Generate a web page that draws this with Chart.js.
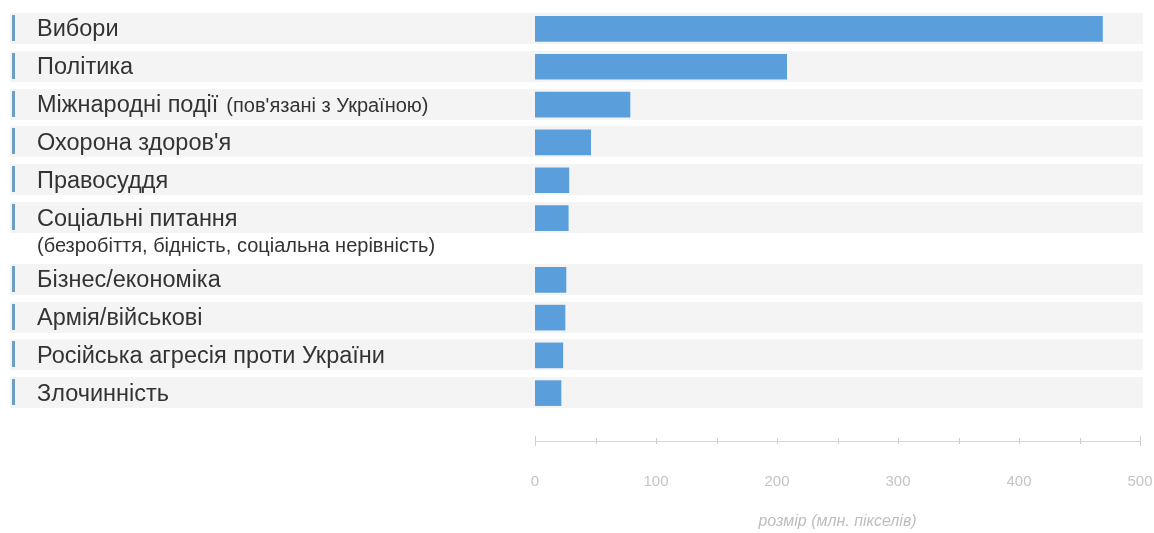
<!DOCTYPE html>
<html><head><meta charset="utf-8">
<script src="https://cdn.jsdelivr.net/npm/chart.js@4/dist/chart.umd.min.js"></script>
<style>
html,body{margin:0;padding:0;background:#fff;}
#wrap{position:relative;width:1154px;height:533px;overflow:hidden;}
#a{position:absolute;left:0;top:0;}
#b{position:absolute;left:0;top:258px;}
</style></head><body>
<div id="wrap"><canvas id="a" width="1154" height="258"></canvas><canvas id="b" width="1154" height="275"></canvas></div>
<script>
const categories = ['Вибори','Політика','Міжнародні події','Охорона здоров\'я','Правосуддя','Соціальні питання','Бізнес/економіка','Армія/військові','Російська агресія проти України','Злочинність'];
const inlineNotes = ['','','(пов\'язані з Україною)','','','','','','',''];
const lineNotes = ['','','','','','(безробіття, бідність, соціальна нерівність)','','','',''];
const sizes = [469, 208, 78.5, 46, 28, 27.5, 25.6, 24.8, 23, 21.5];
const axisMin = 0;
const axisMax = 500;
const majorStep = 100;
const minorStep = 50;
const axisTitle = 'розмір (млн. пікселів)';
const splitAt = 6;

const FONT = "'Liberation Sans', Arial, Helvetica, sans-serif";
const BAR = '#5a9fdc';

function rowsPlugin(labels, notes, subs) {
  return {
    id: 'rows',
    beforeDatasetsDraw(chart) {
      const ctx = chart.ctx, y = chart.scales.y;
      ctx.save();
      labels.forEach((l, i) => {
        const c = y.getPixelForValue(i);
        ctx.fillStyle = '#f4f4f4';
        ctx.fillRect(10, Math.round(c) - 16, 1133, 31);
        ctx.fillStyle = '#6e9ec4';
        ctx.fillRect(12, Math.round(c) - 14, 3, 26);
      });
      ctx.restore();
    },
    afterDraw(chart) {
      const ctx = chart.ctx, y = chart.scales.y;
      ctx.save();
      ctx.textBaseline = 'middle';
      ctx.textAlign = 'left';
      labels.forEach((l, i) => {
        const c = y.getPixelForValue(i);
        ctx.fillStyle = '#333';
        ctx.font = '23.5px ' + FONT;
        ctx.fillText(l, 37, c + 1);
        if (notes[i]) {
          const w = ctx.measureText(l).width + 8;
          ctx.font = '20px ' + FONT;
          ctx.fillText(notes[i], 37 + w, c + 2);
        }
        if (subs[i]) {
          ctx.font = '20px ' + FONT;
          ctx.fillText(subs[i], 37, c + 28);
        }
      });
      ctx.restore();
    }
  };
}

const axisTicksPlugin = {
  id: 'axisTicks',
  afterDraw(chart) {
    const x = chart.scales.x;
    if (!x.options.display) return;
    const ctx = chart.ctx;
    const yb = x.top;
    ctx.save();
    ctx.strokeStyle = '#cfcfcf';
    ctx.lineWidth = 1;
    for (let v = axisMin; v <= axisMax; v += minorStep) {
      const px = Math.round(x.getPixelForValue(v)) + 0.5;
      const h = (v === axisMin || v === axisMax) ? 5 : 3;
      ctx.beginPath();
      ctx.moveTo(px, yb - h);
      ctx.lineTo(px, yb + h);
      ctx.stroke();
    }
    ctx.restore();
  }
};

function makeChart(id, from, to, withAxis) {
  const labels = categories.slice(from, to);
  const scales = {
    y: { type: 'category', display: false },
  };
  if (withAxis) {
    scales.spacer = {
      type: 'linear', position: 'bottom', axis: 'x', weight: 0, min: axisMin, max: axisMax,
      grid: { display: false, drawTicks: false }, border: { display: false },
      ticks: { display: false },
      afterFit(s) { s.height = 29; s.paddingLeft = 0; s.paddingRight = 0; }
    };
    scales.x = {
      type: 'linear', position: 'bottom', weight: 1, min: axisMin, max: axisMax,
      grid: { display: false, drawTicks: false },
      border: { display: true, color: '#d4d4d4', width: 1 },
      ticks: { stepSize: majorStep, color: '#c4c4c4', padding: 32, maxRotation: 0,
        font: { family: FONT, size: 15 } },
      title: { display: true, text: axisTitle, color: '#bdbdbd', padding: { top: 0, bottom: 2 },
        font: { family: FONT, size: 16, style: 'italic' } },
      afterFit(s) { s.height = 92; s.paddingLeft = 0; s.paddingRight = 0; }
    };
  } else {
    scales.x = { type: 'linear', display: false, min: axisMin, max: axisMax };
  }
  return new Chart(document.getElementById(id), {
    type: 'bar',
    data: {
      labels: labels,
      datasets: [{ data: sizes.slice(from, to), backgroundColor: BAR, barThickness: 25, borderWidth: 0 }]
    },
    options: {
      indexAxis: 'y',
      responsive: false,
      animation: false,
      devicePixelRatio: 1,
      layout: { padding: withAxis ? { left: 535, right: 14, top: 3, bottom: 0 } : { left: 535, right: 14, top: 10, bottom: 21 } },
      plugins: { legend: { display: false }, tooltip: { enabled: false } },
      scales: scales
    },
    plugins: [rowsPlugin(labels, inlineNotes.slice(from, to), lineNotes.slice(from, to))].concat(withAxis ? [axisTicksPlugin] : [])
  });
}

makeChart('a', 0, splitAt, false);
makeChart('b', splitAt, categories.length, true);
</script>
</body></html>
